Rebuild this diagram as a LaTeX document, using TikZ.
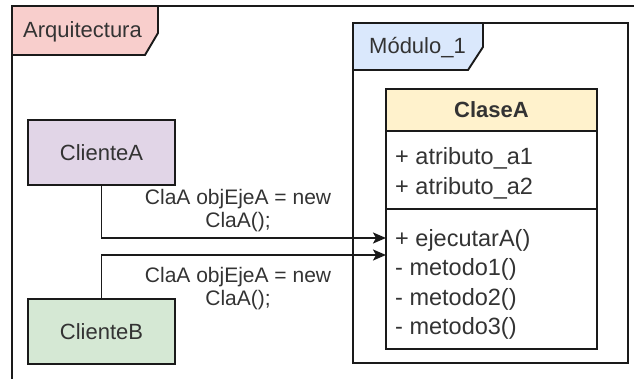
\documentclass[tikz,border=0pt]{standalone}
\usepackage{fontspec}
\setmainfont{Liberation Sans}
\usepackage{xcolor}
\usepackage{tikz}
\usetikzlibrary{arrows.meta,positioning}
\definecolor{txt}{HTML}{333333}
\definecolor{edge}{HTML}{1A1A1A}
\definecolor{pinkfill}{HTML}{F8CECC}
\definecolor{bluefill}{HTML}{DAE8FC}
\definecolor{yellowfill}{HTML}{FFF2CC}
\definecolor{purplefill}{HTML}{E1D5E7}
\definecolor{greenfill}{HTML}{D5E8D4}

\begin{document}
\begin{tikzpicture}[x=1pt,y=-1pt,>={Stealth[length=13pt,width=11pt,inset=3pt]},
 font=\fontsize{22}{26}\selectfont,text=txt,
 frame/.style={draw=edge,line width=1.9pt},
 client/.style={frame,minimum width=147pt,minimum height=65pt},
 part/.style={frame,minimum width=211pt,inner sep=0pt,outer sep=0pt},
 member/.style={anchor=base west,inner sep=0pt,font=\fontsize{23.5}{28}\selectfont},
 lbl/.style={font=\fontsize{21}{23}\selectfont,align=center,inner sep=0pt}]
\useasboundingbox (0,0) rectangle (634,379);
\clip (0,0) rectangle (634,379);
% package Arquitectura
\draw[frame] (12,6) rectangle (660,400);
\draw[frame,fill=pinkfill] (12,6) -- (158,6) -- (158,33) -- (145,55) -- (12,55) -- cycle;
\node[member,font=\fontsize{22}{26}\selectfont] (arq) at (23,38) {Arquitectura};
% package Modulo_1
\draw[frame] (353,23) rectangle (628,363);
\draw[frame,fill=bluefill] (353,23) -- (483,23) -- (483,47) -- (468,70) -- (353,70) -- cycle;
\node[member,font=\fontsize{22}{26}\selectfont] (mod) at (369,54) {Módulo\_1};
% clase
\node[part,fill=yellowfill,minimum height=42pt,font=\fontsize{22}{26}\selectfont\bfseries] (hdr) at (491.5,110) {ClaseA};
\node[part,minimum height=78pt,below=0pt of hdr] (attr) {};
\node[part,minimum height=140pt,below=0pt of attr] (meth) {};
\foreach \t [count=\i] in {+ atributo\_a1,+ atributo\_a2}
  \node[member] (a\i) at (395,{165+30*(\i-1)}) {\t};
\foreach \t [count=\i] in {+ ejecutarA(),- metodo1(),- metodo2(),- metodo3()}
  \node[member] (m\i) at (395,{247+29*(\i-1)}) {\t};
% clientes
\node[client,fill=purplefill] (cliA) at (101.5,152.5) {ClienteA};
\node[client,fill=greenfill] (cliB) at (101.5,331.5) {ClienteB};
\draw[frame,->] (cliA.south) |- node[lbl,pos=0.74,yshift=27pt] (lblA) {ClaA objEjeA = new\\ClaA();} ([yshift=41pt]meth.west);
\draw[frame,->] (cliB.north) |- node[lbl,pos=0.74,yshift=-34pt] (lblB) {ClaA objEjeA = new\\ClaA();} ([yshift=24pt]meth.west);
\end{tikzpicture}
\end{document}
